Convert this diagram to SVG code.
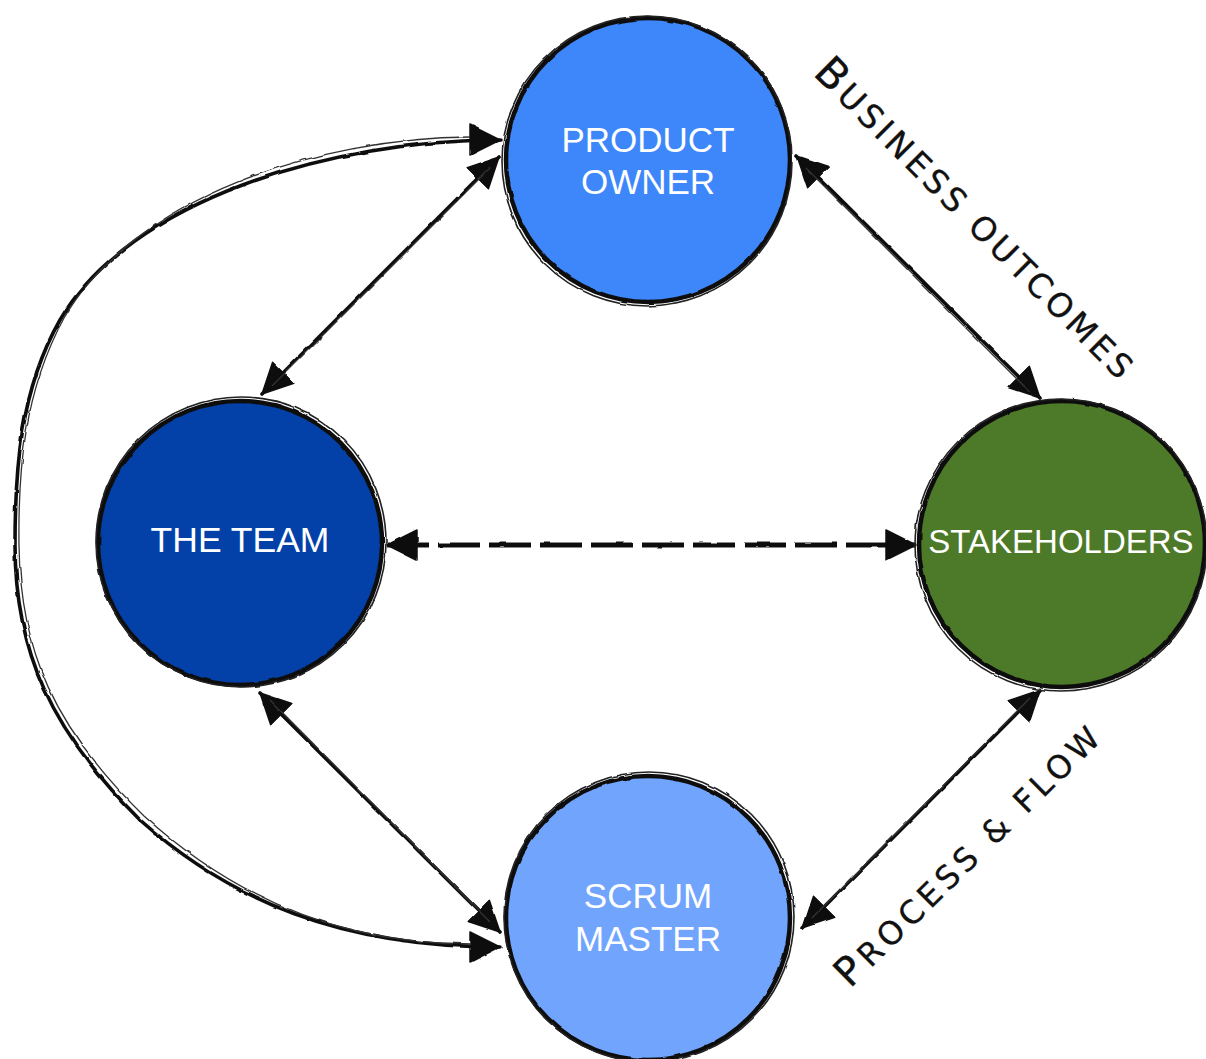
<svg xmlns="http://www.w3.org/2000/svg" width="1206" height="1059" viewBox="0 0 1206 1059">
  <style>
    .node-fill { stroke: none; }
    .outline { fill: none; stroke: #111; stroke-width: 4.5; }
    .outline-thin { fill: none; stroke: #222; stroke-width: 1.6; }
    .label { fill: #ffffff; font-family: "Liberation Sans", Arial, Helvetica, sans-serif; text-anchor: middle; }
    .link { fill: none; stroke: #111; stroke-width: 3.6; stroke-linecap: round; }
    .link-ghost { fill: none; stroke: #333; stroke-width: 1.3; }
    .dashed { fill: none; stroke: #111; stroke-width: 5; stroke-dasharray: 42 9; }
    .note { fill: #111; stroke: #111; stroke-width: 0.3; font-family: "DejaVu Sans", "Liberation Sans", sans-serif; }
  </style>
  <defs>
    <filter id="rough" x="-5%" y="-5%" width="110%" height="110%">
      <feTurbulence type="fractalNoise" baseFrequency="0.06" numOctaves="2" seed="3" result="noise"/>
      <feDisplacementMap in="SourceGraphic" in2="noise" scale="2.5" xChannelSelector="R" yChannelSelector="G"/>
    </filter>
    <marker id="head" viewBox="0 0 32 32" markerWidth="32" markerHeight="32" refX="31" refY="16" orient="auto-start-reverse" markerUnits="userSpaceOnUse">
      <path d="M1,1 L31,16 L1,31 Z" fill="#111" stroke="#111" stroke-width="1.5" stroke-linejoin="round"/>
    </marker>
  </defs>

  <rect width="1206" height="1059" fill="#ffffff"/>

  <!-- connectors -->
  <g id="connectors" filter="url(#rough)">
    <!-- Product Owner <-> The Team -->
    <line class="link" x1="499" y1="157" x2="262" y2="394" marker-start="url(#head)" marker-end="url(#head)"/>
    <line class="link-ghost" x1="490" y1="168" x2="272" y2="386"/>
    <!-- Product Owner <-> Stakeholders -->
    <line class="link" x1="797" y1="156" x2="1040" y2="398" marker-start="url(#head)" marker-end="url(#head)"/>
    <line class="link-ghost" x1="806" y1="168" x2="1030" y2="392"/>
    <!-- The Team <-> Scrum Master -->
    <line class="link" x1="260" y1="693" x2="500" y2="932" marker-start="url(#head)" marker-end="url(#head)"/>
    <line class="link-ghost" x1="270" y1="700" x2="490" y2="922"/>
    <!-- Stakeholders <-> Scrum Master -->
    <line class="link" x1="1040" y1="690" x2="803" y2="928" marker-start="url(#head)" marker-end="url(#head)"/>
    <line class="link-ghost" x1="1030" y1="698" x2="812" y2="918"/>
    <!-- The Team <-> Stakeholders -->
    <line class="dashed" x1="387" y1="545" x2="916" y2="545" marker-start="url(#head)" marker-end="url(#head)"/>
    <!-- Product Owner <-> Scrum Master (outer loop) -->
    <path class="link" d="M 500 140 C 330 140, 130 200, 60 320 C 20 390, 15 470, 15 545 C 15 650, 50 730, 140 820 C 230 900, 340 947, 500 947" marker-start="url(#head)" marker-end="url(#head)"/>
    <path class="link-ghost" d="M 470 137 C 320 138, 135 196, 64 318 C 24 392, 18 470, 19 545 C 20 650, 54 728, 144 816 C 232 896, 340 944, 470 944"/>
  </g>

  <!-- nodes -->
  <g id="product-owner">
    <circle class="node-fill" cx="648" cy="160" r="142" fill="#3E87FB"/>
    <g filter="url(#rough)">
      <circle class="outline" cx="648" cy="160" r="142"/>
      <circle class="outline-thin" cx="647" cy="161" r="145"/>
    </g>
    <text class="label" x="648" y="152" font-size="35">PRODUCT</text>
    <text class="label" x="648" y="194" font-size="35">OWNER</text>
  </g>

  <g id="the-team">
    <circle class="node-fill" cx="240" cy="543" r="142" fill="#0341A8"/>
    <g filter="url(#rough)">
      <circle class="outline" cx="240" cy="543" r="142"/>
      <circle class="outline-thin" cx="241" cy="542" r="145"/>
    </g>
    <text class="label" x="240" y="552" font-size="35.5">THE TEAM</text>
  </g>

  <g id="stakeholders">
    <circle class="node-fill" cx="1062" cy="544" r="143" fill="#4D7A29"/>
    <g filter="url(#rough)">
      <circle class="outline" cx="1062" cy="544" r="143"/>
      <circle class="outline-thin" cx="1061" cy="545" r="146"/>
    </g>
    <text class="label" x="1061" y="553" font-size="33">STAKEHOLDERS</text>
  </g>

  <g id="scrum-master">
    <circle class="node-fill" cx="648" cy="918" r="142" fill="#71A5FD"/>
    <g filter="url(#rough)">
      <circle class="outline" cx="648" cy="918" r="142"/>
      <circle class="outline-thin" cx="649" cy="917" r="145"/>
    </g>
    <text class="label" x="648" y="908" font-size="35">SCRUM</text>
    <text class="label" x="648" y="951" font-size="35">MASTER</text>
  </g>

  <!-- connector notes -->
  <g id="note-business">
    <text class="note" transform="translate(812,74) rotate(45)" textLength="434" lengthAdjust="spacing"><tspan font-size="42">B</tspan><tspan font-size="33">USINESS OUTCOMES</tspan></text>
  </g>
  <g id="note-process">
    <text class="note" transform="translate(850,989) rotate(-44.6)" textLength="354" lengthAdjust="spacing"><tspan font-size="40">P</tspan><tspan font-size="32">ROCESS &amp; FLOW</tspan></text>
  </g>
</svg>
